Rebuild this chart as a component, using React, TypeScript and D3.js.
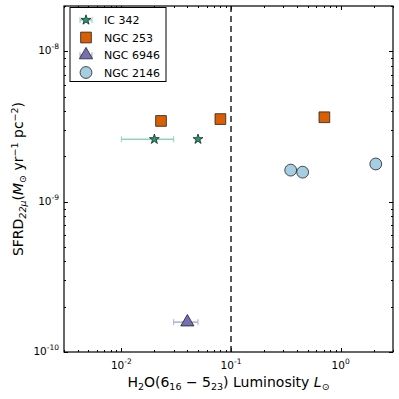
import React, { useEffect, useRef } from "react";
import * as d3 from "d3";

// galaxies and measurements (L_sun, SFRD)
const icX = [0.02, 0.05];
const icY = [2.6e-9, 2.6e-9];
const icErrLo = [0.01, null];
const icErrHi = [0.03, null];

const n253X = [0.023, 0.08, 0.71];
const n253Y = [3.44e-9, 3.54e-9, 3.64e-9];

const n6946X = [0.04];
const n6946Y = [1.58e-10];
const n6946ErrLo = [0.03];
const n6946ErrHi = [0.05];

const n2146X = [0.35, 0.45, 2.09];
const n2146Y = [1.62e-9, 1.57e-9, 1.78e-9];

const xDomain = [0.003, 3];
const yDomain = [1e-10, 2e-8];
const xTicks = [0.01, 0.1, 1];
const xTickExp = ["-2", "-1", "0"];
const yTicks = [1e-10, 1e-9, 1e-8];
const yTickExp = ["-10", "-9", "-8"];
const legendNames = ["IC 342", "NGC 253", "NGC 6946", "NGC 2146"];

const App = () => {
  const svgRef = useRef(null);

  useEffect(() => {
    const svg = d3.select(svgRef.current);
    svg.selectAll("*").remove();
    const font = "DejaVu Sans, sans-serif";
    const margin = { top: 6, left: 64, right: 6, bottom: 47 };
    const W = 399, H = 399;
    const x = d3.scaleLog().domain(xDomain).range([margin.left, W - margin.right]);
    const y = d3.scaleLog().domain(yDomain).range([H - margin.bottom, margin.top]);
    const [x0, x1] = x.range();
    const [y0, y1] = y.range();

    const g = svg.append("g");

    // minor + major ticks, inside, on all four sides
    const xMinor = x.ticks(30).filter((t) => t >= xDomain[0] && t <= xDomain[1]);
    const yMinor = y.ticks(30).filter((t) => t >= yDomain[0] && t <= yDomain[1]);
    const isMajor = (t) => Math.abs(Math.log10(t) - Math.round(Math.log10(t))) < 1e-6;
    xMinor.forEach((t) => {
      const len = isMajor(t) ? 4 : 2;
      const px = Math.round(x(t)) + 0.5;
      g.append("line").attr("x1", px).attr("x2", px).attr("y1", y0).attr("y2", y0 - len).attr("stroke", "#000");
      g.append("line").attr("x1", px).attr("x2", px).attr("y1", y1).attr("y2", y1 + len).attr("stroke", "#000");
    });
    yMinor.forEach((t) => {
      const len = isMajor(t) ? 4 : 2;
      const py = Math.round(y(t)) + 0.5;
      g.append("line").attr("x1", x0).attr("x2", x0 + len).attr("y1", py).attr("y2", py).attr("stroke", "#000");
      g.append("line").attr("x1", x1).attr("x2", x1 - len).attr("y1", py).attr("y2", py).attr("stroke", "#000");
    });

    // tick labels
    xTicks.forEach((t, i) => {
      const tx = g.append("text").attr("x", x(t)).attr("y", y0 + 17)
        .attr("text-anchor", "middle").attr("font-family", font).attr("font-size", 10.5);
      tx.append("tspan").text("10");
      tx.append("tspan").attr("font-size", 7.5).attr("dy", -5).text(xTickExp[i]);
    });
    yTicks.forEach((t, i) => {
      const tx = g.append("text").attr("x", x0 - 5).attr("y", y(t) + 3)
        .attr("text-anchor", "end").attr("font-family", font).attr("font-size", 10.5);
      tx.append("tspan").text("10");
      tx.append("tspan").attr("font-size", 7.5).attr("dy", -5).text(yTickExp[i]);
    });

    // dashed line at 0.1
    g.append("line").attr("x1", x(0.1)).attr("x2", x(0.1)).attr("y1", y1).attr("y2", y0)
      .attr("stroke", "#222").attr("stroke-width", 1.5).attr("stroke-dasharray", "6,4");

    const errBar = (xl, xh, yv, color) => {
      g.append("line").attr("x1", x(xl)).attr("x2", x(xh)).attr("y1", y(yv)).attr("y2", y(yv))
        .attr("stroke", color).attr("stroke-width", 1.5);
      [xl, xh].forEach((v) => {
        g.append("line").attr("x1", x(v)).attr("x2", x(v)).attr("y1", y(yv) - 3).attr("y2", y(yv) + 3)
          .attr("stroke", color).attr("stroke-width", 1);
      });
    };
    icX.forEach((v, i) => {
      if (icErrLo[i] != null) errBar(icErrLo[i], icErrHi[i], icY[i], "#8fd3bd");
    });
    n6946X.forEach((v, i) => errBar(n6946ErrLo[i], n6946ErrHi[i], n6946Y[i], "#b0acdb"));

    const sym = (type, size) => d3.symbol().type(type).size(size)();
    const drawPts = (xs, ys, type, size, fill) => {
      xs.forEach((v, i) => {
        g.append("path").attr("d", sym(type, size))
          .attr("transform", `translate(${x(v)},${y(ys[i])})`)
          .attr("fill", fill).attr("stroke", "#222").attr("stroke-width", 0.8);
      });
    };
    drawPts(n253X, n253Y, d3.symbolSquare, 115, "#d95f02");
    drawPts(icX, icY, d3.symbolStar, 30, "#1b9e77");
    drawPts(n6946X, n6946Y, d3.symbolTriangle, 75, "#7570b3");
    drawPts(n2146X, n2146Y, d3.symbolCircle, 110, "#a6cee3");

    // frame
    g.append("rect").attr("x", x0).attr("y", y1).attr("width", x1 - x0).attr("height", y0 - y1)
      .attr("fill", "none").attr("stroke", "#000").attr("stroke-width", 1.2);

    // legend
    const lg = g.append("g");
    lg.append("rect").attr("x", 70).attr("y", 7.5).attr("width", 96).attr("height", 74)
      .attr("fill", "#fff").attr("stroke", "#000").attr("stroke-width", 1);
    const legendSyms = [
      [d3.symbolStar, 30, "#1b9e77", "#8fd3bd"],
      [d3.symbolSquare, 115, "#d95f02", null],
      [d3.symbolTriangle, 75, "#7570b3", "#b0acdb"],
      [d3.symbolCircle, 110, "#a6cee3", null],
    ];
    legendNames.forEach((name, i) => {
      const ly = 20 + i * 17.5;
      const [type, size, fill, err] = legendSyms[i];
      if (err) {
        lg.append("line").attr("x1", 80).attr("x2", 92).attr("y1", ly).attr("y2", ly).attr("stroke", err).attr("stroke-width", 1.5);
        [80, 92].forEach((px) => lg.append("line").attr("x1", px).attr("x2", px).attr("y1", ly - 3).attr("y2", ly + 3).attr("stroke", err));
      }
      lg.append("path").attr("d", sym(type, size)).attr("transform", `translate(86,${ly})`)
        .attr("fill", fill).attr("stroke", "#222").attr("stroke-width", 0.8);
      lg.append("text").attr("x", 104).attr("y", ly + 4).attr("font-family", font).attr("font-size", 11).text(name);
    });

    // axis labels
    const xl = g.append("text").attr("x", (x0 + x1) / 2).attr("y", 387).attr("text-anchor", "middle")
      .attr("font-family", font).attr("font-size", 14);
    xl.append("tspan").text("H");
    xl.append("tspan").attr("font-size", 9.5).attr("dy", 3).text("2");
    xl.append("tspan").attr("dy", -3).text("O(6");
    xl.append("tspan").attr("font-size", 9.5).attr("dy", 3).text("16");
    xl.append("tspan").attr("dy", -3).text(" \u2212 5");
    xl.append("tspan").attr("font-size", 9.5).attr("dy", 3).text("23");
    xl.append("tspan").attr("dy", -3).text(") Luminosity ");
    xl.append("tspan").attr("font-style", "italic").text("L");
    xl.append("tspan").attr("font-size", 9.5).attr("dy", 3).text("\u2299");

    const yl = g.append("text").attr("transform", `translate(23,${(y0 + y1) / 2}) rotate(-90)`)
      .attr("text-anchor", "middle").attr("font-family", font).attr("font-size", 14);
    yl.append("tspan").text("SFRD");
    yl.append("tspan").attr("font-size", 9.5).attr("dy", 3).attr("font-style", "italic").text("22\u03bc");
    yl.append("tspan").attr("dy", -3).text("(");
    yl.append("tspan").attr("font-style", "italic").text("M");
    yl.append("tspan").attr("font-size", 9.5).attr("dy", 3).text("\u2299");
    yl.append("tspan").attr("dy", -3).text(" yr");
    yl.append("tspan").attr("font-size", 9.5).attr("dy", -5).text("\u22121");
    yl.append("tspan").attr("dy", 5).text(" pc");
    yl.append("tspan").attr("font-size", 9.5).attr("dy", -5).text("\u22122");
    yl.append("tspan").attr("dy", 5).text(")");
  }, []);

  return (
    <div style={{ position: "absolute", left: 0, top: 0 }}>
      <svg ref={svgRef} width={399} height={399}></svg>
    </div>
  );
};

export default App;
